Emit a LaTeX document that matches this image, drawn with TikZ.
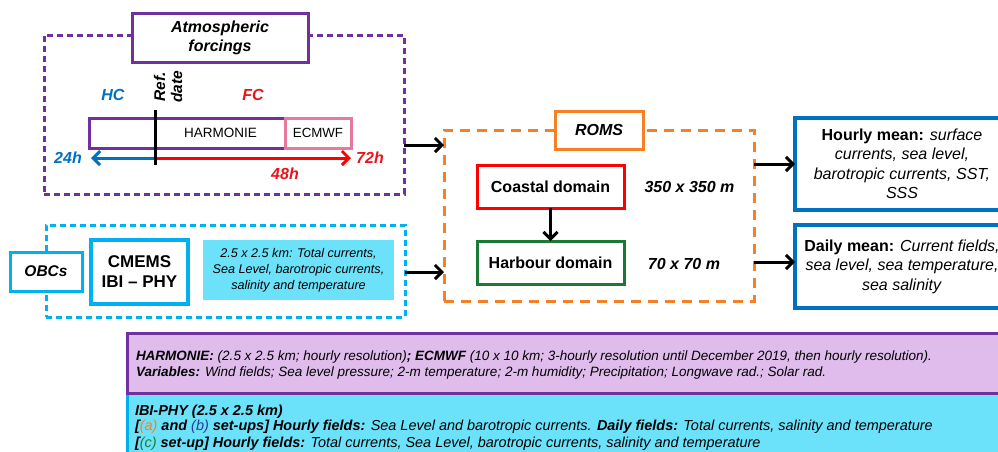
\documentclass[tikz,border=0pt]{standalone}
\usepackage{fontspec}
\setmainfont{Liberation Sans}
\usetikzlibrary{arrows.meta}
\definecolor{cpurple}{HTML}{7030A0}
\definecolor{ccyan}{HTML}{00B0F0}
\definecolor{corange}{HTML}{F58025}
\definecolor{cred}{HTML}{FF0000}
\definecolor{ctred}{HTML}{E8141B}
\definecolor{cgreen}{HTML}{1A7A35}
\definecolor{cblue}{HTML}{0070C0}
\definecolor{cdblue}{HTML}{1F3F9F}
\definecolor{cpink}{HTML}{E8789C}
\definecolor{cfillcyan}{HTML}{6CE2FA}
\definecolor{cfillpurple}{HTML}{E0BCEC}
\newcommand{\fsz}[2]{\fontsize{#1}{#2}\selectfont}
\tikzset{
  plain/.style={inner sep=0pt, outer sep=0pt},
  whitebox/.style={draw, rectangle, inner sep=0pt, outer sep=0pt, fill=white, line width=3pt},
  dashedbox/.style={draw, rectangle, inner sep=0pt, outer sep=0pt, line width=3pt},
  arr/.style={-{Straight Barb[length=7pt,width=14pt]}, line width=3pt},
}
\begin{document}
\begin{tikzpicture}[x=1pt,y=-1pt]
\useasboundingbox (0,0) rectangle (998,451);
\clip (0,0) rectangle (998,451);

% ---------- Atmospheric forcings ----------
\node[dashedbox, draw=cpurple, dash pattern=on 6pt off 4pt, minimum width=360, minimum height=159] (atm) at (224,114.5) {};
\node[whitebox, draw=cpurple, minimum width=176, minimum height=49, align=center,
      font=\fsz{16}{19}\bfseries\itshape] (atmtitle) at (220,37.5) {Atmospheric\\forcings};
\node[plain, text=cblue, font=\fsz{16}{19}\bfseries\itshape] (hc) at (113,95) {HC};
\node[plain, text=ctred, font=\fsz{16}{19}\bfseries\itshape] (fc) at (253,95) {FC};
\node[plain, rotate=90, align=center, font=\fsz{15.5}{17}\bfseries\itshape] (refdate) at (168,87) {Ref.\\date};
\node[whitebox, draw=cpurple, minimum width=196, minimum height=30] (harmbar) at (187,133) {};
\node[whitebox, draw=cpink, minimum width=66, minimum height=30, font=\fsz{13.3}{16}] (ecmwf) at (318,133) {ECMWF};
\node[plain, font=\fsz{13.5}{16}] (harm) at (220.5,133) {HARMONIE};
\coordinate (reftop) at (155,110);
\coordinate (refbot) at (155,165);
\coordinate (t0) at (155,158);
\coordinate (tl) at (91,158);
\coordinate (tr) at (351,158);
\draw[arr, cblue] (t0) -- (tl);
\draw[arr, cred] (t0) -- (tr);
\draw[line width=3pt] (reftop) -- (refbot);
\node[plain, text=cblue, font=\fsz{16}{19}\bfseries\itshape] (h24) at (68,158) {24h};
\node[plain, text=ctred, font=\fsz{16}{19}\bfseries\itshape] (h72) at (370,158) {72h};
\node[plain, text=ctred, font=\fsz{16}{19}\bfseries\itshape] (h48) at (285,174) {48h};

% ---------- OBCs ----------
\node[dashedbox, draw=ccyan, dash pattern=on 6pt off 4pt, minimum width=359, minimum height=92] (obc) at (225.5,271) {};
\node[whitebox, draw=ccyan, minimum width=72, minimum height=39, font=\fsz{15.5}{18}\bfseries\itshape] (obcs) at (46,271.5) {OBCs};
\node[whitebox, draw=ccyan, line width=3.5pt, minimum width=97, minimum height=64, align=center,
      font=\fsz{17}{20}\bfseries] (cmems) at (139.5,272) {CMEMS\\IBI -- PHY};
\node[rectangle, fill=cfillcyan, inner sep=0pt, minimum width=191, minimum height=60, align=center,
      font=\fsz{12.6}{16}\itshape] (ibi) at (298.5,270) {2.5 x 2.5 km: Total currents,\\Sea Level, barotropic currents,\\salinity and temperature};

% ---------- ROMS ----------
\node[dashedbox, draw=corange, dash pattern=on 10pt off 7pt, minimum width=310, minimum height=171] (roms) at (599,215.5) {};
\node[whitebox, draw=corange, minimum width=88, minimum height=38, font=\fsz{16}{19}\bfseries\itshape] (romstitle) at (599,130) {ROMS};
\node[whitebox, draw=cred, minimum width=147, minimum height=43, font=\fsz{16}{19}\bfseries] (coastal) at (550.5,186.5) {Coastal domain};
\node[whitebox, draw=cgreen, minimum width=147, minimum height=43, font=\fsz{16}{19}\bfseries] (harbour) at (550.5,262.5) {Harbour domain};
\draw[arr] (coastal) -- (harbour);
\node[plain, font=\fsz{16}{19}\bfseries\itshape] (res1) at (689.5,187) {350 x 350 m};
\node[plain, font=\fsz{16}{19}\bfseries\itshape] (res2) at (684,264) {70 x 70 m};

% ---------- outputs ----------
\node[whitebox, draw=cblue, line width=3.6pt, minimum width=214, minimum height=92, align=center,
      font=\fsz{16}{19.5}] (hourly) at (902,164)
  {\textbf{Hourly mean:} \textit{surface}\\\textit{currents, sea level,}\\\textit{barotropic currents, SST,}\\\textit{SSS}};
\node[whitebox, draw=cblue, line width=3.6pt, minimum width=214, minimum height=83, align=center,
      font=\fsz{16}{19.5}] (daily) at (902,266.5)
  {\textbf{Daily mean:} \textit{Current fields,}\\\textit{sea level, sea temperature,}\\\textit{sea salinity}};

% ---------- connectors ----------
\draw[arr] (atm.east |- 0,145) -- (roms.west |- 0,145);
\draw[arr] (obc.east |- 0,272) -- (roms.west |- 0,272);
\draw[arr] (roms.east |- hourly.west) -- (hourly.west);
\draw[arr] (roms.east |- 0,262) -- (daily.west |- 0,262);

% ---------- notes ----------
\node[rectangle, draw=ccyan, fill=cfillcyan, line width=3pt, inner sep=0pt, minimum width=883, minimum height=67] (notesB) at (568.5,426.5) {};
\node[rectangle, draw=cpurple, fill=cfillpurple, line width=3pt, inner sep=0pt, minimum width=883, minimum height=60] (notesA) at (568.5,363) {};
\node[plain, anchor=base west, font=\fsz{13.5}{16}\itshape] (na1) at (136,360)
  {\textbf{HARMONIE:} (2.5 x 2.5 km; hourly resolution)\textbf{; ECMWF} (10 x 10 km; 3-hourly resolution until December 2019, then hourly resolution).};
\node[plain, anchor=base west, font=\fsz{13.5}{16}\itshape] (na2) at (136,376)
  {\textbf{Variables:} Wind fields; Sea level pressure; 2-m temperature; 2-m humidity; Precipitation; Longwave rad.; Solar rad.};
\node[plain, anchor=base west, font=\fsz{14.45}{16}\itshape] (nb1) at (135,415)
  {\textbf{IBI-PHY (2.5 x 2.5 km)}};
\node[plain, anchor=base west, font=\fsz{14.45}{16}\itshape] (nb2) at (135,430)
  {\textbf{[{\mdseries\color{corange}(a)} and {\mdseries\color{cdblue}(b)} set-ups] Hourly fields:} Sea Level and barotropic currents. \textbf{Daily fields:} Total currents, salinity and temperature};
\node[plain, anchor=base west, font=\fsz{14.45}{16}\itshape] (nb3) at (135,447)
  {\textbf{[{\mdseries\color{cgreen}(c)} set-up] Hourly fields:} Total currents, Sea Level, barotropic currents, salinity and temperature};
\end{tikzpicture}
\end{document}
